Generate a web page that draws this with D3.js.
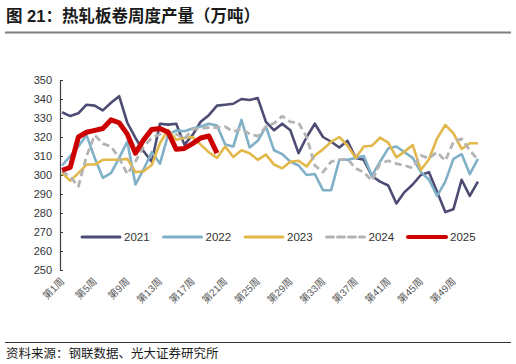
<!DOCTYPE html>
<html lang="zh">
<head>
<meta charset="utf-8">
<title>热轧板卷周度产量</title>
<script src="https://cdn.jsdelivr.net/npm/d3@7"></script>
<style>
  body { margin: 0; background: #fff; }
  text { font-family: "Liberation Sans", Arial, "Noto Sans CJK SC", sans-serif; }
</style>
</head>
<body>
<script>
// size of the picture
var w = 516, h = 364;

// weeks 1..52 as category labels
var weeks = d3.range(1, 53).map(function (d) { return "第" + d + "周"; });
var tickWeeks = ["第1周", "第5周", "第9周", "第13周", "第17周", "第21周", "第25周",
  "第29周", "第33周", "第37周", "第41周", "第45周", "第49周"];
var yTicks = [250, 260, 270, 280, 290, 300, 310, 320, 330, 340, 350];

// weekly output, 万吨
var y2021 = [333, 331, 332.5, 337, 336.5, 334, 338, 341.5, 327.5, 319.5, 312.5, 307,
  327, 326.5, 327, 316, 321, 328, 331.5, 336.5, 337, 337.5, 340, 339.5, 340.5, 328,
  323.5, 327, 323.5, 311.5, 320, 327, 320, 317.5, 314.5, 318, 309, 308, 299.5, 296.5,
  294.5, 285, 291, 295, 300, 301.5, 291, 280.5, 282, 297.5, 289, 296.5];
var y2022 = [305, 310, 315, 321, 309, 298.5, 301, 309, 317.5, 295, 303, 312,
  306, 321, 323.5, 323, 324.5, 325.5, 327, 326, 316, 315, 329, 314.5, 318, 325.5,
  313, 311, 307, 305, 300, 300.5, 292, 292, 308, 308, 309, 310, 299.5, 307,
  314, 315, 312, 309, 301.5, 297.5, 289, 296.5, 308.5, 311, 300.5, 308.5];
var y2023 = [301, 297, 301, 305.5, 305.5, 308, 308, 308, 308.5, 301.5, 302, 305.3,
  316.7, 323.7, 318.5, 319.5, 320, 316, 312, 309, 315, 309.5, 313, 311.4, 308, 310.7,
  305.5, 303.5, 307, 307.5, 304.5, 310.3, 313.5, 317.5, 320, 315.5, 309, 315, 315.4,
  319.7, 317, 309.3, 312.3, 315.8, 302.6, 308.3, 319.3, 326.3, 321.9, 313.7, 316.7, 316.7];
var y2024 = [302, 299, 294, 310, 321, 316.5, 315, 309, 300.5, 307, 315, 319.5,
  321.5, 323, 321.5, 319, 324, 324.5, 325, 325, 325.4, 322.8, 324.5, 321.5, 320.5,
  325.4, 327.2, 331, 328, 327.5, 320, 305, 301.5, 307, 308, 308.5, 303.5, 301.5, 297,
  306, 307.5, 306, 305, 303.7, 310.3, 308.8, 312, 307.5, 317.5, 319, 313, 308];
var y2025 = [302.5, 304, 320, 322.5, 323.5, 324.5, 329, 327.5, 321.5, 311.5, 318.5,
  324, 324.5, 322.5, 313.5, 314, 316.5, 319.5, 320.5, 311.5];

var years = ["2021", "2022", "2023", "2024", "2025"];
var seriesValues = [y2021, y2022, y2023, y2024, y2025];
var colors = ["#4d4c74", "#7fb0c8", "#e2b84b", "#b4b4b4", "#cc0000"];
var widths = [2.6, 2.6, 2.6, 2.8, 5];
var dashes = [null, null, null, "7,4", null];

var svg = d3.select("body").append("svg")
  .attr("width", w)
  .attr("height", h);

// title + rule
svg.append("text")
  .attr("x", 6)
  .attr("y", 22)
  .attr("font-family", "'Noto Sans CJK SC', sans-serif")
  .attr("font-size", "16.5px")
  .attr("font-weight", "bold")
  .attr("fill", "#1a1a1a")
  .text("图 21：热轧板卷周度产量（万吨）");
svg.append("line")
  .attr("x1", 5).attr("x2", 511)
  .attr("y1", 32.5).attr("y2", 32.5)
  .attr("stroke", "#7f7f7f")
  .attr("stroke-width", 2);

// scales
var x = d3.scalePoint().domain(weeks).range([58, 482]).padding(0.5);
var y = d3.scaleLinear().domain([250, 350]).range([270, 80]);

// y axis
var yAxis = svg.append("g")
  .attr("transform", "translate(60,0)")
  .call(d3.axisRight(y).tickValues(yTicks).tickSize(3).tickFormat(d3.format("d")));
yAxis.select(".domain").attr("stroke", "#404040").attr("stroke-width", 1.2);
yAxis.selectAll(".tick line").attr("stroke", "#404040");
yAxis.selectAll(".tick text")
  .attr("x", -8)
  .attr("text-anchor", "end")
  .attr("font-size", "11px")
  .attr("fill", "#333")
  .attr("font-family", "'Liberation Sans', Arial, sans-serif");

// x labels, rotated
svg.append("g").selectAll("text")
  .data(tickWeeks)
  .enter()
  .append("text")
  .attr("transform", function (d) {
    return "translate(" + (x(d) + 3) + ",282) rotate(-45)";
  })
  .attr("text-anchor", "end")
  .attr("font-size", "10px")
  .attr("fill", "#595959")
  .text(function (d) { return d; });

// lines
var line = d3.line()
  .x(function (d, i) { return x(weeks[i]); })
  .y(function (d) { return y(d); });

svg.append("g").selectAll("path")
  .data(seriesValues)
  .enter()
  .append("path")
  .attr("d", line)
  .attr("fill", "none")
  .attr("stroke", function (d, i) { return colors[i]; })
  .attr("stroke-width", function (d, i) { return widths[i]; })
  .attr("stroke-dasharray", function (d, i) { return dashes[i]; })
  .attr("stroke-linejoin", "round");

// legend
var legend = svg.append("g").selectAll("g")
  .data(years)
  .enter()
  .append("g")
  .attr("transform", function (d, i) { return "translate(" + (82 + i * 81.5) + ",237)"; });
legend.append("line")
  .attr("x1", 0).attr("x2", 38)
  .attr("stroke", function (d, i) { return colors[i]; })
  .attr("stroke-width", function (d, i) { return i == 4 ? 4 : 3; })
  .attr("stroke-dasharray", function (d, i) { return dashes[i]; })
  .attr("stroke-linecap", "round");
legend.append("text")
  .attr("x", 42)
  .attr("y", 4)
  .attr("font-size", "11.5px")
  .attr("fill", "#333")
  .text(function (d) { return d; });

// source
svg.append("line")
  .attr("x1", 5).attr("x2", 511)
  .attr("y1", 342.5).attr("y2", 342.5)
  .attr("stroke", "#333")
  .attr("stroke-width", 1.2);
svg.append("text")
  .attr("x", 6)
  .attr("y", 358)
  .attr("font-family", "'Noto Sans CJK SC', sans-serif")
  .attr("font-size", "12.5px")
  .attr("fill", "#1a1a1a")
  .text("资料来源：钢联数据、光大证券研究所");
</script>
</body>
</html>
